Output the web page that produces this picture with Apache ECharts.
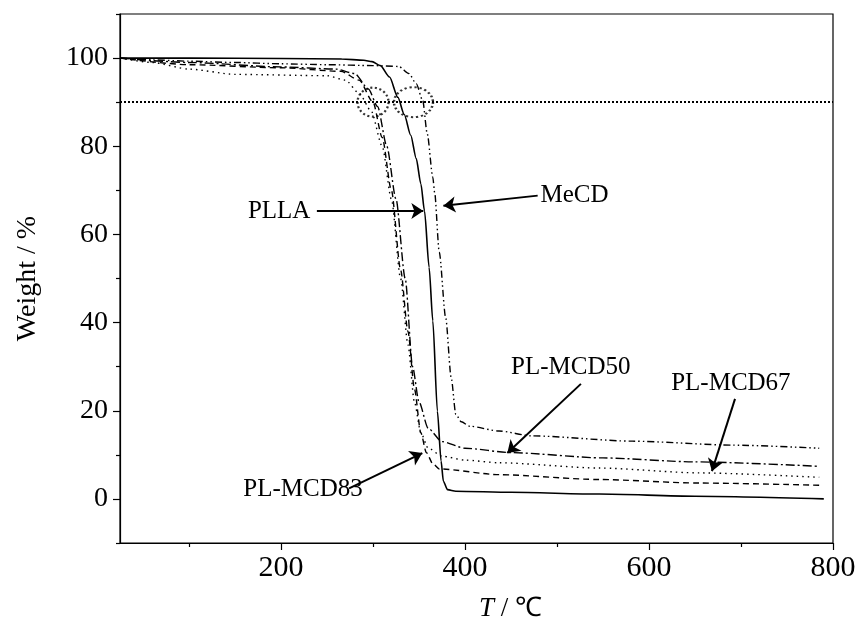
<!DOCTYPE html>
<html>
<head>
<meta charset="utf-8">
<script src="https://cdn.jsdelivr.net/npm/echarts@6/dist/echarts.min.js"></script>
<style>html,body{margin:0;padding:0;background:#fff}#c{width:858px;height:621px}</style>
</head>
<body>
<div id="c"></div>
<script>
// ---- data ----
var xMajorTicks = [200, 400, 600, 800];
var xMinorTicks = [100, 300, 500, 700];
var yMajorTicks = [0, 20, 40, 60, 80, 100];
var yMinorTicks = [-10, 10, 30, 50, 70, 90, 110];

var pllaT = [25, 100, 200, 266, 290, 299, 308, 318, 327, 334, 341, 347, 352, 356, 361, 365, 370, 374, 376.5, 381, 390, 450, 546, 650, 790];
var pllaW = [100, 100, 99.9, 99.8, 99.5, 99.2, 98.3, 95.7, 91.1, 87.2, 82.5, 77.2, 71.5, 65.3, 52.5, 40.4, 19.9, 8.6, 4.0, 2.1, 1.75, 1.5, 1.1, 0.6, 0.0];

var mecdT = [25, 60, 100, 150, 200, 250, 300, 328, 339, 347, 354, 359, 365, 367, 372, 379, 385, 390, 396, 405, 437, 473, 582, 691, 785];
var mecdW = [100, 99.6, 99.3, 99.0, 98.7, 98.5, 98.3, 98.1, 96.5, 94.2, 90.4, 82.8, 73, 69.5, 56, 41.1, 27.5, 19.2, 17.5, 16.5, 15.4, 14.3, 13.1, 12.2, 11.5];

var mcd50T = [25, 100, 200, 260, 280, 295, 305, 315, 325, 335, 343, 350, 360, 375, 400, 450, 550, 650, 785];
var mcd50W = [100, 99, 98, 97.5, 96.5, 93, 89, 80, 68, 50, 30, 22, 16, 13, 11.5, 10.5, 9.3, 8.4, 7.4];

var mcd67T = [25, 60, 100, 150, 250, 270, 285, 298, 310, 320, 330, 338, 345, 352, 360, 375, 400, 437, 546, 655, 785];
var mcd67W = [100, 99, 97.5, 96.3, 96, 95, 92, 88, 80, 68, 50, 35, 22, 15, 11.5, 9.7, 8.8, 8.2, 7, 5.9, 4.9];

var mcd83T = [25, 100, 200, 265, 285, 300, 310, 320, 330, 338, 345, 352, 358, 365, 372, 437, 546, 655, 785];
var mcd83W = [100, 98.5, 97.8, 97, 95, 90, 82, 70, 52, 38, 25, 15, 10.5, 8, 6.8, 5.5, 4.4, 3.6, 3.1];

var refLine = 90;
var circleCenters = [[300, 90], [344, 90]];

var labelNames = ['PLLA', 'MeCD', 'PL-MCD50', 'PL-MCD67', 'PL-MCD83'];
var labelPos = [[198, 65.2], [519, 68.8], [515, 29.9], [689, 26.3], [224, 2.2]];
var arrowFrom = [[239, 65.3], [479, 68.8], [526, 26.1], [693.5, 22.7], [274, 2.4]];
var arrowTo = [[354.7, 65.3], [376.5, 66.5], [446, 10.4], [668.4, 6.3], [353.6, 10.4]];

// ---- chart ----
function zip(a, b) { return a.map(function (v, i) { return [v, b[i]]; }); }
var FONT = '"Liberation Serif", "Times New Roman", serif';
var INK = '#000';

function lineSeries(name, t, w, dash, width) {
  return {
    name: name, type: 'line', data: zip(t, w), showSymbol: false,
    smooth: 0.25, smoothMonotone: 'x', animation: false,
    lineStyle: { color: INK, width: width || 1.4, type: dash }
  };
}

var series = [
  lineSeries('PLLA', pllaT, pllaW, 'solid', 1.6),
  lineSeries('MeCD', mecdT, mecdW, [7, 3, 1.5, 3, 1.5, 3]),
  lineSeries('PL-MCD50', mcd50T, mcd50W, [9, 3, 2, 3]),
  lineSeries('PL-MCD67', mcd67T, mcd67W, [1.5, 4]),
  lineSeries('PL-MCD83', mcd83T, mcd83W, [6, 4])
];

// reference dotted line
series[0].markLine = {
  silent: true, animation: false, symbol: ['none', 'none'], label: { show: false },
  lineStyle: { color: INK, type: [2, 2], width: 2 },
  data: [{ yAxis: refLine }]
};

// arrows
series.push({
  type: 'lines', coordinateSystem: 'cartesian2d', animation: false, silent: true,
  symbol: ['none', 'arrow'], symbolSize: 12,
  lineStyle: { color: INK, width: 2, type: 'solid', opacity: 1 },
  data: arrowFrom.map(function (f, i) { return { coords: [f, arrowTo[i]] }; })
});

// dotted circles
series.push({
  type: 'scatter', animation: false, silent: true,
  data: circleCenters,
  symbol: 'circle',
  symbolSize: function (v, p) { return p.dataIndex === 0 ? [31, 29] : [39, 30]; },
  itemStyle: { color: 'rgba(0,0,0,0)', borderColor: INK, borderWidth: 2.2, borderType: [2, 2.5] }
});

// text labels
series.push({
  type: 'scatter', animation: false, silent: true, symbolSize: 0,
  itemStyle: { color: INK, opacity: 1 },
  data: labelPos.map(function (p, i) { return { value: p, name: labelNames[i] }; }),
  label: {
    show: true, position: 'inside', formatter: '{b}', color: INK,
    textBorderWidth: 0, textBorderColor: 'transparent',
    fontFamily: FONT, fontSize: 25
  }
});

var option = {
  backgroundColor: '#fff',
  animation: false,
  grid: {
    left: 120, right: 25, top: 14, bottom: 78, containLabel: false, outerBoundsMode: 'none',
    show: true, borderColor: INK, borderWidth: 1.2, backgroundColor: 'transparent'
  },
  xAxis: [{
    type: 'value', min: 25, max: 800,
    axisLine: { show: true, onZero: false, lineStyle: { color: INK, width: 1.2 } },
    axisTick: { show: true, inside: false, length: 7, customValues: xMajorTicks, lineStyle: { color: INK, width: 1.2 } },
    axisLabel: { show: true, customValues: xMajorTicks, color: INK, fontFamily: FONT, fontSize: 30, margin: 10 },
    splitLine: { show: false },
    name: '{i|T} / ℃', nameLocation: 'middle', nameGap: 52,
    nameTextStyle: { color: INK, fontFamily: FONT, fontSize: 27, padding: [0, 0, 0, 68], rich: { i: { fontStyle: 'italic', fontFamily: FONT, fontSize: 27, color: INK } } }
  }, {
    type: 'value', min: 25, max: 800, position: 'bottom',
    axisLine: { show: false, onZero: false },
    axisTick: { show: true, length: 4, customValues: xMinorTicks, lineStyle: { color: INK, width: 1.2 } },
    axisLabel: { show: false }, splitLine: { show: false }
  }],
  yAxis: [{
    type: 'value', min: -10, max: 110,
    axisLine: { show: true, onZero: false, lineStyle: { color: INK, width: 1.2 } },
    axisTick: { show: true, inside: false, length: 7, customValues: yMajorTicks, lineStyle: { color: INK, width: 1.2 } },
    axisLabel: { show: true, customValues: yMajorTicks, color: INK, fontFamily: FONT, fontSize: 28, margin: 12 },
    splitLine: { show: false },
    name: 'Weight / %', nameLocation: 'middle', nameGap: 78, nameRotate: 90,
    nameTextStyle: { color: INK, fontFamily: FONT, fontSize: 28 }
  }, {
    type: 'value', min: -10, max: 110, position: 'left',
    axisLine: { show: false, onZero: false },
    axisTick: { show: true, length: 4, customValues: yMinorTicks, lineStyle: { color: INK, width: 1.2 } },
    axisLabel: { show: false }, splitLine: { show: false }
  }],
  series: series
};

var chart = echarts.init(document.getElementById('c'), null, { renderer: 'canvas' });
chart.setOption(option);
</script>
</body>
</html>
